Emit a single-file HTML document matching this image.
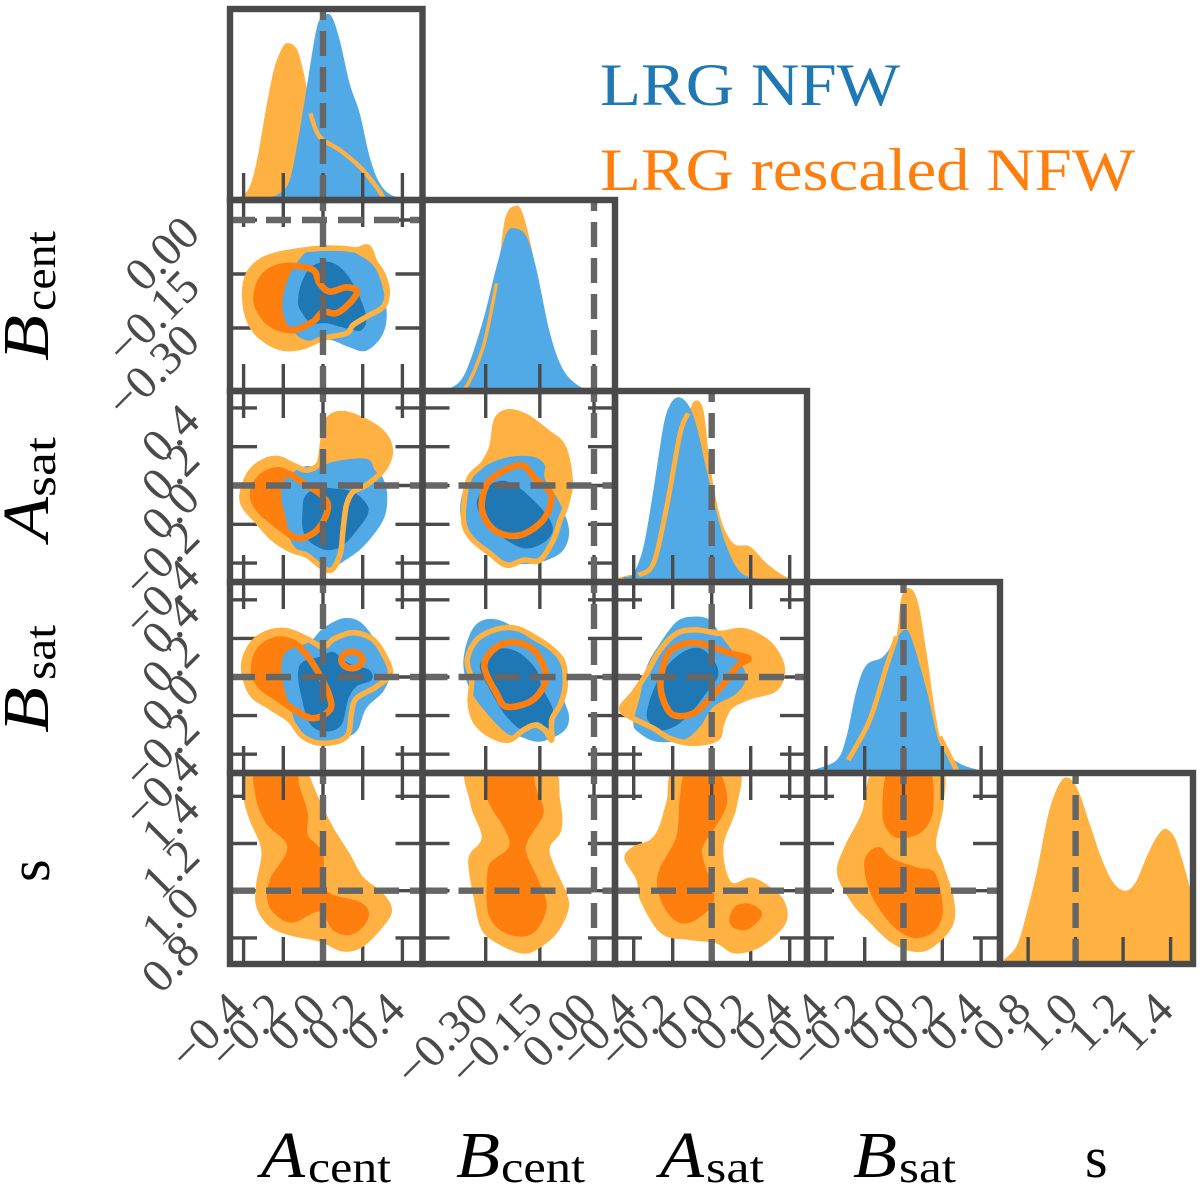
<!DOCTYPE html>
<html lang="en">
<head>
<meta charset="utf-8">
<title>LRG NFW corner plot</title>
<style>
html,body{margin:0;padding:0;background:#fff;}
svg{display:block;}
text{font-family:"Liberation Serif",serif;}
</style>
</head>
<body>
<svg id="chart" xmlns="http://www.w3.org/2000/svg" width="1200" height="1188" viewBox="0 0 1200 1188">
  <rect x="0" y="0" width="1200" height="1188" fill="#fff"/>
  <defs id="clips"></defs>
  <g id="panels"></g>
  <g id="tick-labels"></g>
  <g>
    <text x="600" y="105" font-size="60" fill="#1f77b4" textLength="300" lengthAdjust="spacingAndGlyphs">LRG NFW</text>
    <text x="600" y="190" font-size="60" fill="#ff7f0e" textLength="535" lengthAdjust="spacingAndGlyphs">LRG rescaled NFW</text>
  </g>
  <g fill="#000">
    <g>
      <text x="261" y="1177" font-size="66" font-style="italic" textLength="44" lengthAdjust="spacingAndGlyphs">A</text>
      <text x="308" y="1182" font-size="44" textLength="83" lengthAdjust="spacingAndGlyphs">cent</text>
    </g>
    <g>
      <text x="456" y="1177" font-size="66" font-style="italic" textLength="44" lengthAdjust="spacingAndGlyphs">B</text>
      <text x="501" y="1182" font-size="44" textLength="84" lengthAdjust="spacingAndGlyphs">cent</text>
    </g>
    <g>
      <text x="660" y="1177" font-size="66" font-style="italic" textLength="44" lengthAdjust="spacingAndGlyphs">A</text>
      <text x="706" y="1182" font-size="44" textLength="58" lengthAdjust="spacingAndGlyphs">sat</text>
    </g>
    <g>
      <text x="853" y="1177" font-size="66" font-style="italic" textLength="44" lengthAdjust="spacingAndGlyphs">B</text>
      <text x="899" y="1182" font-size="44" textLength="57" lengthAdjust="spacingAndGlyphs">sat</text>
    </g>
    <text x="1085" y="1177" font-size="58">s</text>
  </g>
  <g fill="#000">
    <g>
      <text transform="translate(48,361) rotate(-90)" font-size="66" font-style="italic" textLength="46" lengthAdjust="spacingAndGlyphs">B</text>
      <text transform="translate(55,311) rotate(-90)" font-size="44" textLength="80" lengthAdjust="spacingAndGlyphs">cent</text>
    </g>
    <g>
      <text transform="translate(48,541) rotate(-90)" font-size="66" font-style="italic" textLength="44" lengthAdjust="spacingAndGlyphs">A</text>
      <text transform="translate(55,497) rotate(-90)" font-size="44" textLength="60" lengthAdjust="spacingAndGlyphs">sat</text>
    </g>
    <g>
      <text transform="translate(48,733) rotate(-90)" font-size="66" font-style="italic" textLength="46" lengthAdjust="spacingAndGlyphs">B</text>
      <text transform="translate(55,680) rotate(-90)" font-size="44" textLength="55" lengthAdjust="spacingAndGlyphs">sat</text>
    </g>
    <text transform="translate(49,882) rotate(-90)" font-size="58">s</text>
  </g>
</svg>
<script>
// ---- axis tick values and labels ----
const ticksA = [-0.4, -0.2, 0.0, 0.2, 0.4];
const ticksB = [-0.30, -0.15, 0.00];
const ticksS = [0.8, 1.0, 1.2, 1.4];
const labelsA = ["\u22120.4", "\u22120.2", "0.0", "0.2", "0.4"];
const labelsB = ["\u22120.30", "\u22120.15", "0.00"];
const labelsS = ["0.8", "1.0", "1.2", "1.4"];
const truthValues = [0.0, 0.0, 0.0, 0.0, 1.0];

// ---- 1D marginal densities: [parameter value, relative density] ----
const margACentBlue = [[-0.30,0],[-0.286,0.008],[-0.218,0.035],[-0.168,0.105],[-0.126,0.316],[-0.084,0.579],[-0.034,0.895],[0,0.965],[0.042,0.968],[0.084,0.842],[0.134,0.614],[0.185,0.456],[0.235,0.228],[0.286,0.088],[0.353,0.022],[0.471,0]];
const margACentOrange = [[-0.445,0],[-0.378,0.053],[-0.336,0.193],[-0.294,0.439],[-0.252,0.667],[-0.218,0.772],[-0.185,0.825],[-0.134,0.798],[-0.101,0.684],[-0.081,0.579],[-0.064,0.456],[-0.017,0.333],[0.084,0.263],[0.185,0.175],[0.269,0.070],[0.311,0]];
const margBCentBlue = [[-0.445,0.004],[-0.390,0.023],[-0.353,0.111],[-0.307,0.374],[-0.270,0.654],[-0.242,0.830],[-0.219,0.856],[-0.187,0.812],[-0.159,0.637],[-0.122,0.304],[-0.085,0.111],[-0.039,0.023],[-0.002,0.005]];
const margBCentOrange = [[-0.390,0.005],[-0.357,0.014],[-0.307,0.233],[-0.270,0.567],[-0.247,0.900],[-0.219,0.974],[-0.196,0.926],[-0.163,0.654],[-0.127,0.181],[-0.085,0.075],[-0.039,0.023],[-0.002,0.005]];
const margASatBlue = [[-0.453,0.025],[-0.402,0.046],[-0.350,0.186],[-0.299,0.484],[-0.248,0.818],[-0.214,0.932],[-0.171,0.972],[-0.120,0.932],[-0.077,0.818],[-0.026,0.589],[0.026,0.361],[0.077,0.186],[0.145,0.054],[0.231,0.019],[0.333,0.007]];
const margASatOrange = [[-0.487,0.019],[-0.419,0.037],[-0.376,0.037],[-0.299,0.098],[-0.231,0.396],[-0.162,0.782],[-0.120,0.888],[-0.085,0.954],[-0.043,0.905],[-0.009,0.625],[0.043,0.344],[0.111,0.204],[0.197,0.186],[0.282,0.098],[0.385,0.025],[0.470,0.011]];
const margBSatBlue = [[-0.466,0.016],[-0.345,0.068],[-0.294,0.191],[-0.242,0.437],[-0.191,0.568],[-0.105,0.612],[-0.036,0.709],[0.007,0.753],[0.041,0.709],[0.119,0.437],[0.187,0.156],[0.273,0.060],[0.376,0.019],[0.462,0.007]];
const margBSatOrange = [[-0.474,0.016],[-0.380,0.033],[-0.285,0.068],[-0.174,0.279],[-0.088,0.560],[-0.036,0.718],[-0.010,0.928],[0.033,0.972],[0.076,0.893],[0.119,0.630],[0.187,0.191],[0.273,0.016]];
const margSOrange = [[0.699,0.023],[0.752,0.096],[0.791,0.254],[0.839,0.5],[0.887,0.798],[0.935,0.956],[0.975,0.977],[1.014,0.904],[1.062,0.728],[1.110,0.553],[1.158,0.430],[1.209,0.386],[1.253,0.430],[1.301,0.570],[1.341,0.667],[1.377,0.711],[1.416,0.667],[1.452,0.535],[1.487,0.377],[1.524,0.237]];

// ---- 2D contours: [x value, y value] ----
// Bcent vs Acent
const bcAcOrangeOuter = [[-0.395,-0.213],[-0.378,-0.153],[-0.319,-0.116],[-0.235,-0.097],[-0.118,-0.085],[-0.017,-0.079],[0.101,-0.079],[0.168,-0.083],[0.227,-0.076],[0.261,-0.116],[0.303,-0.153],[0.324,-0.199],[0.303,-0.241],[0.218,-0.269],[0.151,-0.292],[0.118,-0.315],[0,-0.329],[-0.101,-0.352],[-0.202,-0.356],[-0.303,-0.329],[-0.370,-0.282]];
const bcAcOrangeInner = [[-0.336,-0.218],[-0.311,-0.167],[-0.252,-0.137],[-0.160,-0.127],[-0.050,-0.139],[-0.017,-0.176],[0.034,-0.199],[0.118,-0.187],[0.171,-0.199],[0.134,-0.231],[0.067,-0.259],[0,-0.255],[-0.050,-0.282],[-0.151,-0.306],[-0.252,-0.292],[-0.311,-0.259]];
const bcAcBlueOuter = [[-0.205,-0.241],[-0.185,-0.176],[-0.134,-0.120],[-0.059,-0.079],[0.050,-0.071],[0.168,-0.093],[0.269,-0.139],[0.319,-0.241],[0.303,-0.315],[0.218,-0.363],[0.126,-0.352],[0.034,-0.333],[-0.092,-0.333],[-0.176,-0.292]];
const bcAcBlueInner = [[-0.126,-0.227],[-0.109,-0.176],[-0.059,-0.130],[0.025,-0.116],[0.101,-0.139],[0.168,-0.194],[0.218,-0.269],[0.193,-0.306],[0.118,-0.301],[0.017,-0.287],[-0.059,-0.287],[-0.109,-0.255]];
// Asat vs Acent
const asAcOrangeOuter = [[-0.407,-0.041],[-0.370,0.062],[-0.303,0.122],[-0.227,0.139],[-0.151,0.105],[-0.084,0.079],[-0.025,0.105],[-0.008,0.165],[0,0.234],[0.025,0.337],[0.092,0.371],[0.202,0.337],[0.303,0.268],[0.339,0.174],[0.303,0.079],[0.218,0.002],[0.151,-0.033],[0.118,-0.101],[0.101,-0.230],[0.087,-0.351],[0.042,-0.436],[-0.017,-0.411],[-0.084,-0.359],[-0.160,-0.333],[-0.252,-0.273],[-0.336,-0.179],[-0.395,-0.110]];
const asAcOrangeInner = [[-0.353,-0.050],[-0.319,0.036],[-0.235,0.079],[-0.160,0.053],[-0.084,0.002],[-0.017,-0.041],[0.025,-0.101],[0,-0.187],[-0.050,-0.247],[-0.126,-0.273],[-0.185,-0.239],[-0.252,-0.187],[-0.319,-0.127]];
const asAcBlueOuter = [[-0.210,-0.058],[-0.193,0.027],[-0.101,0.096],[-0.017,0.096],[0.050,0.122],[0.168,0.139],[0.235,0.131],[0.261,0.079],[0.303,0.036],[0.324,-0.058],[0.303,-0.179],[0.202,-0.316],[0.101,-0.393],[0.034,-0.428],[-0.017,-0.411],[-0.092,-0.368],[-0.160,-0.290],[-0.185,-0.179]];
const asAcBlueInner = [[-0.104,-0.144],[-0.092,-0.058],[-0.034,-0.015],[0.050,-0.015],[0.151,-0.033],[0.218,-0.093],[0.227,-0.144],[0.185,-0.213],[0.101,-0.308],[0.017,-0.333],[-0.067,-0.290],[-0.101,-0.230]];
// Asat vs Bcent
const asBcOrangeOuter = [[-0.362,-0.162],[-0.348,0.027],[-0.307,0.113],[-0.283,0.199],[-0.270,0.337],[-0.237,0.380],[-0.187,0.354],[-0.131,0.277],[-0.085,0.199],[-0.066,0.027],[-0.076,-0.093],[-0.094,-0.179],[-0.113,-0.282],[-0.150,-0.385],[-0.196,-0.385],[-0.242,-0.411],[-0.288,-0.351],[-0.343,-0.265]];
const asBcOrangeInner = [[-0.311,-0.093],[-0.288,0.027],[-0.205,0.105],[-0.163,0.036],[-0.122,-0.033],[-0.122,-0.110],[-0.150,-0.196],[-0.205,-0.256],[-0.260,-0.247],[-0.297,-0.187]];
const asBcBlueOuter = [[-0.371,-0.110],[-0.353,0.010],[-0.297,0.105],[-0.233,0.148],[-0.168,0.148],[-0.136,0.105],[-0.136,0.036],[-0.094,-0.093],[-0.069,-0.230],[-0.085,-0.333],[-0.131,-0.385],[-0.187,-0.405],[-0.242,-0.393],[-0.288,-0.351],[-0.334,-0.282],[-0.362,-0.196]];
const asBcBlueInner = [[-0.325,-0.093],[-0.297,-0.007],[-0.251,0.024],[-0.205,-0.015],[-0.159,-0.093],[-0.127,-0.162],[-0.114,-0.230],[-0.136,-0.290],[-0.187,-0.325],[-0.242,-0.282],[-0.297,-0.196]];
// Bsat vs Acent
const bsAcOrangeOuter = [[-0.400,0.054],[-0.361,0.166],[-0.286,0.226],[-0.185,0.240],[-0.084,0.200],[0,0.157],[0.059,0.200],[0.151,0.230],[0.244,0.200],[0.303,0.123],[0.339,0.019],[0.269,-0.050],[0.168,-0.111],[0.143,-0.188],[0.118,-0.309],[0,-0.344],[-0.101,-0.309],[-0.168,-0.223],[-0.269,-0.154],[-0.361,-0.085]];
const bsAcOrangeInner = [[-0.348,0.036],[-0.319,0.140],[-0.235,0.192],[-0.143,0.174],[-0.076,0.105],[-0.017,0.010],[0.034,-0.102],[0.034,-0.171],[-0.050,-0.214],[-0.143,-0.171],[-0.227,-0.111],[-0.311,-0.050]];
const bsAcOrangeRing = [[0.146,0.131],[0.184,0.118],[0.200,0.088],[0.184,0.058],[0.146,0.045],[0.108,0.058],[0.092,0.088],[0.108,0.118]];
const bsAcBlueOuter = [[-0.210,0.036],[-0.185,0.131],[-0.067,0.183],[0,0.252],[0.101,0.304],[0.185,0.287],[0.252,0.209],[0.303,0.123],[0.336,0.019],[0.303,-0.076],[0.218,-0.162],[0.168,-0.283],[0.067,-0.326],[-0.034,-0.326],[-0.118,-0.292],[-0.160,-0.171],[-0.193,-0.067]];
const bsAcBlueInner = [[-0.126,0.019],[-0.101,0.079],[-0.017,0.105],[0.050,0.131],[0.101,0.088],[0.151,0.062],[0.235,0.036],[0.244,-0.016],[0.168,-0.050],[0.126,-0.119],[0.092,-0.249],[0.008,-0.283],[-0.067,-0.240],[-0.109,-0.102]];
// Bsat vs Bcent
const bsBcOrangeOuter = [[-0.351,0.088],[-0.325,0.192],[-0.270,0.247],[-0.214,0.252],[-0.159,0.200],[-0.113,0.140],[-0.085,0.071],[-0.080,-0.050],[-0.094,-0.145],[-0.117,-0.223],[-0.117,-0.326],[-0.136,-0.275],[-0.163,-0.249],[-0.196,-0.275],[-0.233,-0.326],[-0.279,-0.309],[-0.325,-0.240],[-0.343,-0.136],[-0.339,-0.016]];
const bsBcOrangeInner = [[-0.304,0.054],[-0.274,0.149],[-0.223,0.180],[-0.168,0.140],[-0.136,0.036],[-0.140,-0.050],[-0.177,-0.128],[-0.242,-0.154],[-0.270,-0.085]];
const bsBcBlueOuter = [[-0.362,0.071],[-0.343,0.226],[-0.307,0.295],[-0.251,0.287],[-0.177,0.200],[-0.113,0.123],[-0.085,0.019],[-0.085,-0.102],[-0.069,-0.206],[-0.085,-0.283],[-0.150,-0.335],[-0.205,-0.309],[-0.242,-0.292],[-0.297,-0.188],[-0.343,-0.067]];
const bsBcBlueInner = [[-0.316,0.054],[-0.288,0.123],[-0.251,0.149],[-0.205,0.123],[-0.159,0.036],[-0.145,-0.050],[-0.113,-0.171],[-0.122,-0.266],[-0.159,-0.231],[-0.196,-0.275],[-0.242,-0.206],[-0.288,-0.067]];
// Bsat vs Asat
const bsAsOrangeOuter = [[-0.462,-0.162],[-0.402,-0.085],[-0.333,0.019],[-0.265,0.140],[-0.179,0.226],[-0.077,0.244],[0.043,0.226],[0.162,0.240],[0.282,0.183],[0.350,0.088],[0.359,0.002],[0.316,-0.067],[0.197,-0.102],[0.094,-0.154],[0.051,-0.240],[0.026,-0.318],[-0.094,-0.344],[-0.214,-0.318],[-0.299,-0.266],[-0.419,-0.206]];
const bsAsOrangeInner = [[-0.262,-0.016],[-0.222,0.123],[-0.128,0.174],[-0.026,0.166],[0.094,0.123],[0.188,0.097],[0.137,0.062],[0.077,-0.016],[-0.009,-0.111],[-0.094,-0.188],[-0.197,-0.197],[-0.248,-0.119]];
const bsAsBlueOuter = [[-0.402,-0.240],[-0.368,-0.102],[-0.333,0.054],[-0.265,0.174],[-0.179,0.287],[-0.094,0.313],[-0.009,0.295],[0.051,0.209],[0.128,0.105],[0.176,0.002],[0.128,-0.085],[0.009,-0.154],[-0.060,-0.257],[-0.145,-0.326],[-0.282,-0.335],[-0.368,-0.292]];
const bsAsBlueInner = [[-0.333,-0.188],[-0.299,-0.067],[-0.231,0.054],[-0.145,0.131],[-0.060,0.149],[0.009,0.088],[0.034,0.010],[-0.017,-0.067],[-0.094,-0.171],[-0.179,-0.249],[-0.265,-0.278],[-0.316,-0.240]];
// s vs Acent
const sAcOrangeOuter = [[-0.395,1.540],[-0.400,1.398],[-0.370,1.299],[-0.311,1.172],[-0.336,1.031],[-0.336,0.932],[-0.269,0.847],[-0.160,0.809],[-0.017,0.784],[0.101,0.742],[0.202,0.763],[0.303,0.847],[0.348,0.918],[0.303,0.989],[0.202,1.059],[0.134,1.158],[0.050,1.271],[-0.017,1.384],[-0.067,1.483],[-0.101,1.540],[-0.252,1.568]];
const sAcOrangeInner = [[-0.336,1.540],[-0.339,1.398],[-0.286,1.285],[-0.180,1.184],[-0.269,1.045],[-0.277,0.946],[-0.218,0.883],[-0.143,0.866],[-0.017,0.911],[0.050,0.833],[0.134,0.812],[0.202,0.847],[0.232,0.904],[0.185,0.953],[0.017,1.003],[0,1.158],[-0.076,1.236],[-0.076,1.328],[-0.118,1.441],[-0.151,1.540]];
// s vs Bcent
const sBcOrangeOuter = [[-0.127,1.540],[-0.094,1.384],[-0.090,1.257],[-0.122,1.186],[-0.113,1.116],[-0.076,0.989],[-0.071,0.918],[-0.103,0.819],[-0.159,0.749],[-0.200,0.734],[-0.260,0.770],[-0.311,0.833],[-0.334,0.975],[-0.348,1.102],[-0.343,1.158],[-0.311,1.229],[-0.343,1.370],[-0.343,1.540]];
const sBcOrangeInner = [[-0.288,1.540],[-0.297,1.398],[-0.251,1.271],[-0.235,1.215],[-0.242,1.172],[-0.288,1.116],[-0.297,1.031],[-0.293,0.904],[-0.260,0.833],[-0.205,0.805],[-0.159,0.833],[-0.131,0.932],[-0.150,1.031],[-0.187,1.158],[-0.182,1.215],[-0.140,1.328],[-0.159,1.427],[-0.187,1.540]];
// s vs Asat
const sAsOrangeOuter = [[-0.182,1.525],[-0.231,1.384],[-0.270,1.271],[-0.318,1.215],[-0.405,1.186],[-0.448,1.137],[-0.386,1.045],[-0.367,0.960],[-0.260,0.819],[-0.114,0.791],[0.021,0.777],[0.118,0.734],[0.254,0.763],[0.380,0.862],[0.370,0.960],[0.273,1.031],[0.196,1.056],[0.099,1.038],[0.060,1.186],[0.128,1.356],[0.128,1.525]];
const sAsOrangeInner = [[-0.124,1.525],[-0.163,1.398],[-0.182,1.229],[-0.270,1.087],[-0.273,0.989],[-0.211,0.890],[-0.124,0.862],[-0.017,0.918],[0.012,0.989],[-0.047,1.144],[-0.037,1.201],[0.021,1.271],[0.080,1.384],[0.021,1.525]];
const sAsOrangeIsland = [[0.089,0.876],[0.118,0.932],[0.186,0.946],[0.250,0.918],[0.250,0.883],[0.186,0.836],[0.118,0.840]];
// s vs Bsat
const sBsOrangeOuter = [[-0.138,1.525],[-0.216,1.328],[-0.304,1.186],[-0.343,1.073],[-0.265,0.946],[-0.187,0.876],[-0.070,0.784],[0.047,0.742],[0.144,0.756],[0.251,0.847],[0.261,0.960],[0.203,1.116],[0.168,1.201],[0.207,1.370],[0.183,1.525]];
const sBsOrangeTop = [[-0.070,1.525],[-0.109,1.328],[-0.070,1.243],[-0.002,1.222],[0.105,1.257],[0.154,1.356],[0.125,1.525]];
const sBsOrangeBottom = [[-0.203,1.109],[-0.177,1.165],[-0.119,1.184],[-0.060,1.137],[0.066,1.099],[0.164,1.073],[0.203,0.918],[0.164,0.833],[0.066,0.798],[-0.031,0.833],[-0.109,0.904],[-0.177,1.003]];

// ---- axis functions ----
const xAxis = [
  v => 323 + 198.5 * v,
  v => 594 + 361 * v,
  v => 711.7 + 195 * v,
  v => 903.5 + 194 * v,
  v => 1075.6 + 237.5 * (v - 1)
];
const yAxis = [
  v => v,
  v => 220 - 360 * v,
  v => 485.5 - 194 * v,
  v => 677 - 193 * v,
  v => 890.7 - 236 * (v - 1)
];
const colEdge = [230, 422.5, 615, 807, 1000, 1193];
const rowEdge = [9, 200, 391, 582, 773, 964];
const densityY = (row, d) => rowEdge[row + 1] - 190 * d;

const tickSets = [ticksA, ticksB, ticksA, ticksA, ticksS];
const labelSets = [labelsA, labelsB, labelsA, labelsA, labelsS];
const paramNames = ['a-cent', 'b-cent', 'a-sat', 'b-sat', 's'];

const COLORS = { blueLight: '#51a9e6', blueDark: '#1f77b4', orangeLight: '#ffb142', orangeDark: '#ff7f0e', axis: '#4a4a4a', truth: '#666666' };
const NS = 'http://www.w3.org/2000/svg';

const contourSets = [
  { col: 0, row: 1, oo: bcAcOrangeOuter, oi: [bcAcOrangeInner], bo: bcAcBlueOuter, bi: bcAcBlueInner, ol: [bcAcOrangeInner] },
  { col: 0, row: 2, oo: asAcOrangeOuter, oi: [asAcOrangeInner], bo: asAcBlueOuter, bi: asAcBlueInner, ol: [asAcOrangeInner] },
  { col: 1, row: 2, oo: asBcOrangeOuter, oi: [asBcOrangeInner], bo: asBcBlueOuter, bi: asBcBlueInner, ol: [asBcOrangeInner] },
  { col: 0, row: 3, oo: bsAcOrangeOuter, oi: [bsAcOrangeInner], bo: bsAcBlueOuter, bi: bsAcBlueInner, ol: [bsAcOrangeInner, bsAcOrangeRing] },
  { col: 1, row: 3, oo: bsBcOrangeOuter, oi: [bsBcOrangeInner], bo: bsBcBlueOuter, bi: bsBcBlueInner, ol: [bsBcOrangeInner] },
  { col: 2, row: 3, oo: bsAsOrangeOuter, oi: [bsAsOrangeInner], bo: bsAsBlueOuter, bi: bsAsBlueInner, ol: [bsAsOrangeInner] },
  { col: 0, row: 4, oo: sAcOrangeOuter, oi: [sAcOrangeInner] },
  { col: 1, row: 4, oo: sBcOrangeOuter, oi: [sBcOrangeInner] },
  { col: 2, row: 4, oo: sAsOrangeOuter, oi: [sAsOrangeInner, sAsOrangeIsland] },
  { col: 3, row: 4, oo: sBsOrangeOuter, oi: [sBsOrangeTop, sBsOrangeBottom] }
];
const marginalSets = [
  { idx: 0, blue: margACentBlue, orange: margACentOrange, visible: [[-0.08, 0.32]], width: 4.5 },
  { idx: 1, blue: margBCentBlue, orange: margBCentOrange, visible: [[-0.40, -0.25]], width: 3.5 },
  { idx: 2, blue: margASatBlue, orange: margASatOrange, visible: [[-0.38, -0.12]], width: 5 },
  { idx: 3, blue: margBSatBlue, orange: margBSatOrange, visible: [[-0.29, -0.03], [0.16, 0.28]], width: 5 },
  { idx: 4, blue: null, orange: margSOrange, visible: [], width: 0 }
];

function mk(parent, tag, attrs) {
  const e = document.createElementNS(NS, tag);
  for (const k in attrs) e.setAttribute(k, attrs[k]);
  parent.appendChild(e);
  return e;
}
function closedPath(pts) {
  const n = pts.length;
  let d = 'M' + pts[0][0].toFixed(1) + ' ' + pts[0][1].toFixed(1);
  for (let i = 0; i < n; i++) {
    const p0 = pts[(i - 1 + n) % n], p1 = pts[i], p2 = pts[(i + 1) % n], p3 = pts[(i + 2) % n];
    d += 'C' + (p1[0] + (p2[0] - p0[0]) / 6).toFixed(1) + ' ' + (p1[1] + (p2[1] - p0[1]) / 6).toFixed(1) + ' ' +
         (p2[0] - (p3[0] - p1[0]) / 6).toFixed(1) + ' ' + (p2[1] - (p3[1] - p1[1]) / 6).toFixed(1) + ' ' +
         p2[0].toFixed(1) + ' ' + p2[1].toFixed(1);
  }
  return d + 'Z';
}
function openPath(pts) {
  const n = pts.length;
  let d = 'M' + pts[0][0].toFixed(1) + ' ' + pts[0][1].toFixed(1);
  for (let i = 0; i < n - 1; i++) {
    const p0 = pts[Math.max(i - 1, 0)], p1 = pts[i], p2 = pts[i + 1], p3 = pts[Math.min(i + 2, n - 1)];
    d += 'C' + (p1[0] + (p2[0] - p0[0]) / 6).toFixed(1) + ' ' + (p1[1] + (p2[1] - p0[1]) / 6).toFixed(1) + ' ' +
         (p2[0] - (p3[0] - p1[0]) / 6).toFixed(1) + ' ' + (p2[1] - (p3[1] - p1[1]) / 6).toFixed(1) + ' ' +
         p2[0].toFixed(1) + ' ' + p2[1].toFixed(1);
  }
  return d;
}
const toPixels2D = (arr, col, row) => arr.map(p => [xAxis[col](p[0]), yAxis[row](p[1])]);
const toPixels1D = (arr, idx) => arr.map(p => [xAxis[idx](p[0]), densityY(idx, p[1])]);

const panelsG = document.getElementById('panels');
const clipsDefs = document.getElementById('clips');
const frameLayer = document.createElementNS(NS, 'g');

function panelGroup(col, row) {
  const id = 'clip-' + col + '-' + row;
  const cp = mk(clipsDefs, 'clipPath', { id: id });
  mk(cp, 'rect', { x: colEdge[col], y: rowEdge[row], width: colEdge[col + 1] - colEdge[col], height: rowEdge[row + 1] - rowEdge[row] });
  const g = mk(panelsG, 'g', { 'clip-path': 'url(#' + id + ')' });
  
  
  return g;
}
function tick(g, x1, y1, x2, y2) {
  const t = mk(g, 'line', { x1: x1, y1: y1, x2: x2, y2: y2, stroke: COLORS.axis, 'stroke-width': 3.4 });
  
  
}
function bottomTicks(g, col, row) {
  const b = rowEdge[row + 1];
  tickSets[col].forEach(v => tick(g, xAxis[col](v), b, xAxis[col](v), b - 27));
}
function topTicks(g, col, row) {
  const t = rowEdge[row];
  tickSets[col].forEach(v => tick(g, xAxis[col](v), t, xAxis[col](v), t + 27));
}
function sideTicks(g, col, row) {
  const l = colEdge[col], r = colEdge[col + 1];
  tickSets[row].forEach(v => {
    tick(g, l, yAxis[row](v), l + 27, yAxis[row](v));
    tick(g, r, yAxis[row](v), r - 27, yAxis[row](v));
  });
}
function truthV(g, col, row) {
  const x = xAxis[col](truthValues[col]);
  const l = mk(g, 'line', { x1: x, y1: rowEdge[row + 1], x2: x, y2: rowEdge[row], stroke: COLORS.truth, 'stroke-width': 6.4, 'stroke-dasharray': '25 11' });
  
  
}
function truthH(g, col, row) {
  const y = yAxis[row](truthValues[row]);
  const l = mk(g, 'line', { x1: colEdge[col], y1: y, x2: colEdge[col + 1], y2: y, stroke: COLORS.truth, 'stroke-width': 6.4, 'stroke-dasharray': '25 11' });
  
  
}
function fillShape(g, d, color, name) {
  const p = mk(g, 'path', { d: d, fill: color });
  
  
}
function strokeShape(g, d, color, w, name) {
  const p = mk(g, 'path', { d: d, fill: 'none', stroke: color, 'stroke-width': w, 'stroke-linejoin': 'round' });
  
  
}
function frame(col, row) {
  const f = mk(frameLayer, 'rect', { x: colEdge[col], y: rowEdge[row], width: colEdge[col + 1] - colEdge[col], height: rowEdge[row + 1] - rowEdge[row], fill: 'none', stroke: COLORS.axis, 'stroke-width': 6.4 });
  
  
}

contourSets.forEach(s => {
  const g = panelGroup(s.col, s.row);
  sideTicks(g, s.col, s.row);
  bottomTicks(g, s.col, s.row);
  fillShape(g, closedPath(toPixels2D(s.oo, s.col, s.row)), COLORS.orangeLight, 'contour-orange-outer');
  s.oi.forEach(c => fillShape(g, closedPath(toPixels2D(c, s.col, s.row)), COLORS.orangeDark, 'contour-orange-inner'));
  if (s.bo) {
    fillShape(g, closedPath(toPixels2D(s.bo, s.col, s.row)), COLORS.blueLight, 'contour-blue-outer');
    fillShape(g, closedPath(toPixels2D(s.bi, s.col, s.row)), COLORS.blueDark, 'contour-blue-inner');
    strokeShape(g, closedPath(toPixels2D(s.oo, s.col, s.row)), COLORS.orangeLight, 5.5, 'contour-orange-outer-line');
    s.ol.forEach(c => strokeShape(g, closedPath(toPixels2D(c, s.col, s.row)), COLORS.orangeDark, 6.5, 'contour-orange-inner-line'));
  }
  topTicks(g, s.col, s.row);
  truthH(g, s.col, s.row);
  truthV(g, s.col, s.row);
  frame(s.col, s.row);
});

marginalSets.forEach(m => {
  const g = panelGroup(m.idx, m.idx);
  const base = rowEdge[m.idx + 1] + 4;
  const area = pts => openPath(pts) + 'L' + pts[pts.length - 1][0].toFixed(1) + ' ' + base + 'L' + pts[0][0].toFixed(1) + ' ' + base + 'Z';
  fillShape(g, area(toPixels1D(m.orange, m.idx)), COLORS.orangeLight, 'marginal-orange');
  if (m.blue) {
    fillShape(g, area(toPixels1D(m.blue, m.idx)), COLORS.blueLight, 'marginal-blue');
    m.visible.forEach(range => {
      const part = m.orange.filter(p => p[0] >= range[0] && p[0] <= range[1]);
      strokeShape(g, openPath(toPixels1D(part, m.idx)), COLORS.orangeLight, m.width, 'marginal-orange-line');
    });
  }
  bottomTicks(g, m.idx, m.idx);
  truthV(g, m.idx, m.idx);
  frame(m.idx, m.idx);
});



panelsG.appendChild(frameLayer);

const labelsG = document.getElementById('tick-labels');
function tickLabel(x, y, str, name) {
  const t = mk(labelsG, 'text', { transform: 'translate(' + x.toFixed(1) + ',' + y.toFixed(1) + ') rotate(-45)', 'text-anchor': 'end', 'font-size': 47, fill: COLORS.axis });
  t.textContent = str;
  
  
}
for (let c = 0; c < 5; c++) {
  tickSets[c].forEach((v, i) => tickLabel(xAxis[c](v) + 5, 1012, labelSets[c][i], 'x-tick-label-' + paramNames[c]));
}
for (let r = 1; r < 5; r++) {
  tickSets[r].forEach((v, i) => tickLabel(202, yAxis[r](v) + 15.5, labelSets[r][i], 'y-tick-label-' + paramNames[r]));
}
</script>
</body>
</html>
